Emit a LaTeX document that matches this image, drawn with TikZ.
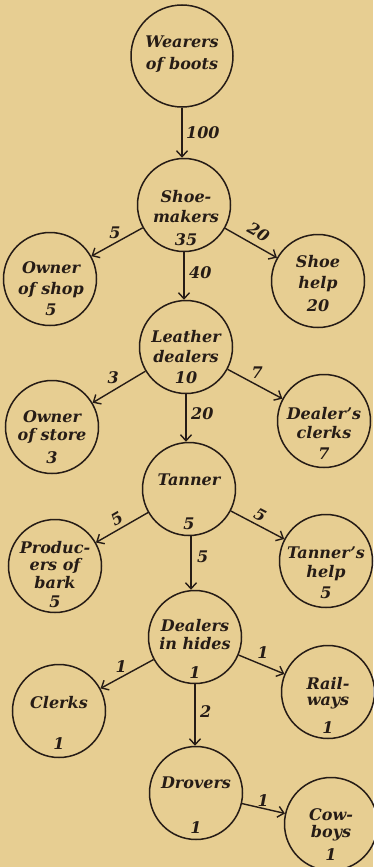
\documentclass[tikz,border=0pt]{standalone}
\usepackage{fontspec}
\newfontfamily\diafont{DejaVu Serif}
\usetikzlibrary{arrows.meta}
\definecolor{paper}{RGB}{231,206,146}
\definecolor{ink}{RGB}{38,28,22}
\begin{document}
\begin{tikzpicture}[x=1pt,y=-1pt,
  circ/.style={circle,draw=ink,line width=1.5pt,minimum size=93pt,inner sep=0pt},
  txt/.style={align=center,text=ink,inner sep=0pt,font=\diafont\bfseries\itshape\fontsize{16}{19}\selectfont},
  lab/.style={text=ink,inner sep=1.5pt,font=\diafont\bfseries\itshape\fontsize{16}{19}\selectfont},
  link/.style={draw=ink,line width=1.4pt,-{Straight Barb[length=6pt,width=11pt]}}
]
\fill[paper] (0,0) rectangle (373,867);
\useasboundingbox (0,0) rectangle (373,867);

% circles
\node[circ,minimum size=102pt] (wb) at (182,56) {};
\node[circ] (sm) at (184,205) {};
\node[circ] (os) at (50,279) {};
\node[circ] (sh) at (318,281) {};
\node[circ] (ld) at (186,347) {};
\node[circ] (ost) at (52,427) {};
\node[circ] (dc) at (324,421) {};
\node[circ] (tn) at (189,489) {};
\node[circ] (pb) at (55,566) {};
\node[circ] (th) at (326,561) {};
\node[circ] (dh) at (195,637) {};
\node[circ] (cl) at (59,711) {};
\node[circ] (rw) at (328,692) {};
\node[circ] (dr) at (196,793) {};
\node[circ] (cb) at (331,824) {};

% texts
\node[txt] (wbt) at (182,54) {Wearers\\[3pt]of boots};
\node[txt] (smt) at (186,218.5) {Shoe-\\[1pt]makers\\[4pt]35};
\node[txt] (ost1) at (51,289) {Owner\\[2pt]of shop\\[2pt]5};
\node[txt] (sht) at (318,284) {Shoe\\[2pt]help\\[4pt]20};
\node[txt] (ldt) at (186,357.5) {Leather\\[1pt]dealers\\[2pt]10};
\node[txt] (ostt) at (52,437.5) {Owner\\[-1pt]of store\\[4pt]3};
\node[txt] (dct) at (324,433) {Dealer’s\\[0pt]clerks\\[2pt]7};
\node[txt] (tnt) at (189,502) {Tanner\\[25pt]5};
\node[txt] (pbt) at (55,575) {Produc-\\[-2pt]ers of\\[-1pt]bark\\[0pt]5};
\node[txt] (tht) at (326,573) {Tanner’s\\[0pt]help\\[2pt]5};
\node[txt] (dht) at (195,648.5) {Dealers\\[-1pt]in hides\\[10pt]1};
\node[txt] (clt) at (59,722.5) {Clerks\\[22pt]1};
\node[txt] (rwt) at (328,705) {Rail-\\[-3pt]ways\\[9pt]1};
\node[txt] (drt) at (196,805.5) {Drovers\\[26pt]1};
\node[txt] (cbt) at (331,835) {Cow-\\[-2pt]boys\\[4pt]1};

% connectors
\draw[link] (wb.south) -- node[lab,pos=0.49,right=2pt] (l1) {100} (wb.south |- sm.north);
\draw[link] (sm) -- node[lab,pos=0.54,above=2pt] (l2) {5} (os);
\draw[link] (sm) -- node[lab,pos=0.52,above=5pt,sloped] (l3) {20} (sh);
\draw[link] (sm.south) -- node[lab,pos=0.42,right=3pt] (l4) {40} (sm.south |- ld.north);
\draw[link] (ld) -- node[lab,pos=0.61,above=5pt] (l5) {3} (ost);
\draw[link] (ld) -- node[lab,pos=0.54,above=4pt] (l6) {7} (dc);
\draw[link] (ld.south) -- node[lab,pos=0.4,right=3pt] (l7) {20} (ld.south |- tn.north);
\draw[link] (tn) -- node[lab,pos=0.5,above=2pt,sloped] (l8) {5} (pb);
\draw[link] (tn) -- node[lab,pos=0.46,above=2pt,sloped] (l9) {5} (th);
\draw[link] ([xshift=2pt]tn.south) -- node[lab,pos=0.39,right=4pt] (l10) {5} ([xshift=2pt]tn.south |- dh.north);
\draw[link] (dh) -- node[lab,pos=0.61,above=2pt] (l11) {1} (cl);
\draw[link] (dh) -- node[lab,pos=0.53,above=4pt] (l12) {1} (rw);
\draw[link] (dh.south) -- node[lab,pos=0.44,right=3pt] (l13) {2} (dh.south |- dr.north);
\draw[link] (dr) -- node[lab,pos=0.49,above=0pt] (l14) {1} (cb);
\end{tikzpicture}
\end{document}
